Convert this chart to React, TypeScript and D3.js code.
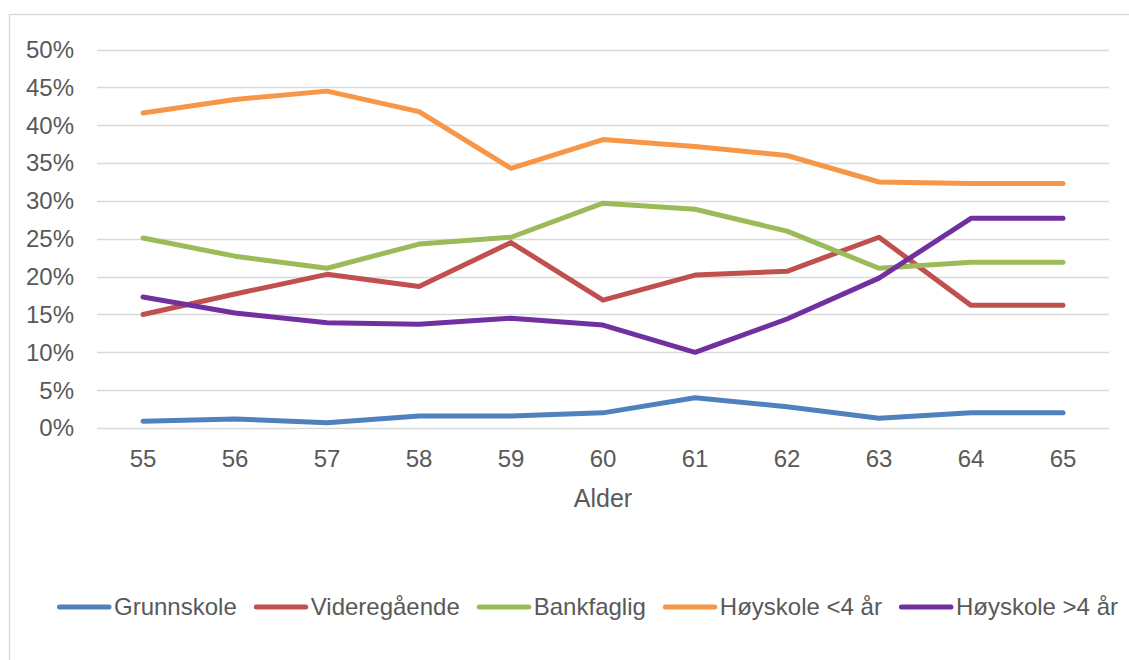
import React, { useEffect, useRef } from 'react';
import * as d3 from 'd3';

const ages = [55, 56, 57, 58, 59, 60, 61, 62, 63, 64, 65];
const yTicks = [0, 5, 10, 15, 20, 25, 30, 35, 40, 45, 50];

const grunnskole = [0.9, 1.2, 0.7, 1.6, 1.6, 2.0, 4.0, 2.8, 1.3, 2.0, 2.0];
const videregaende = [15.0, 17.7, 20.3, 18.7, 24.5, 16.9, 20.2, 20.7, 25.2, 16.2, 16.2];
const bankfaglig = [25.1, 22.7, 21.1, 24.3, 25.2, 29.7, 28.9, 26.0, 21.1, 21.9, 21.9];
const hoyskoleUnder4 = [41.6, 43.4, 44.5, 41.8, 34.3, 38.1, 37.2, 36.0, 32.5, 32.3, 32.3];
const hoyskoleOver4 = [17.3, 15.2, 13.9, 13.7, 14.5, 13.6, 10.0, 14.4, 19.8, 27.7, 27.7];

const seriesNames = ['Grunnskole', 'Videregående', 'Bankfaglig', 'Høyskole <4 år', 'Høyskole >4 år'];
const seriesValues = [grunnskole, videregaende, bankfaglig, hoyskoleUnder4, hoyskoleOver4];
const colors = ['#4f81bd', '#c0504d', '#9bbb59', '#f79646', '#7030a0'];

export default function App() {
    const ref = useRef<SVGSVGElement>(null);

    useEffect(() => {
        const width = 1129;
        const height = 660;
        const margin = { left: 97, right: 20, top: 49.5, bottom: 232 };
        const font = 'Liberation Sans, Arial, sans-serif';
        const fontSize = 24;

        const svg = d3.select(ref.current);
        svg.selectAll('*').remove();

        //chart frame
        svg.append('rect')
            .attr('x', 9.5)
            .attr('y', 14.5)
            .attr('width', 1140)
            .attr('height', 700)
            .attr('fill', 'white')
            .attr('stroke', '#d9d9d9')
            .attr('stroke-width', 1.3);

        const plotRight = width - margin.right;
        const plotBottom = height - margin.bottom;

        const x = d3.scalePoint<number>()
            .domain(ages)
            .range([margin.left, plotRight])
            .padding(0.5);

        const y = d3.scaleLinear()
            .domain([0, 50])
            .range([plotBottom, margin.top]);

        //gridlines
        svg.append('g')
            .selectAll('line')
            .data(yTicks)
            .enter()
            .append('line')
            .attr('x1', margin.left)
            .attr('x2', plotRight)
            .attr('y1', d => Math.round(y(d)) + 0.5)
            .attr('y2', d => Math.round(y(d)) + 0.5)
            .attr('stroke', '#d9d9d9')
            .attr('stroke-width', 1.3);

        //y tick labels
        svg.append('g')
            .selectAll('text')
            .data(yTicks)
            .enter()
            .append('text')
            .attr('x', 74)
            .attr('y', d => y(d))
            .attr('dy', '0.35em')
            .attr('text-anchor', 'end')
            .attr('font-family', font)
            .attr('font-size', fontSize)
            .attr('fill', '#595959')
            .text(d => `${d}%`);

        //x tick labels
        svg.append('g')
            .selectAll('text')
            .data(ages)
            .enter()
            .append('text')
            .attr('x', d => x(d)!)
            .attr('y', plotBottom + 39)
            .attr('text-anchor', 'middle')
            .attr('font-family', font)
            .attr('font-size', fontSize)
            .attr('fill', '#595959')
            .text(d => d);

        svg.append('text')
            .attr('x', (margin.left + plotRight) / 2)
            .attr('y', plotBottom + 79)
            .attr('text-anchor', 'middle')
            .attr('font-family', font)
            .attr('font-size', 25)
            .attr('fill', '#595959')
            .text('Alder');

        //lines
        const line = d3.line<number>()
            .x((_, i) => x(ages[i])!)
            .y(d => y(d));

        seriesValues.forEach((vals, i) => {
            svg.append('path')
                .attr('d', line(vals))
                .attr('fill', 'none')
                .attr('stroke', colors[i])
                .attr('stroke-width', 5)
                .attr('stroke-linejoin', 'round')
                .attr('stroke-linecap', 'round');
        });

        //legend
        const legend = svg.append('g');
        let lx = 57;
        const ly = 607;
        seriesNames.forEach((name, i) => {
            legend.append('line')
                .attr('x1', lx + 2.5)
                .attr('x2', lx + 52)
                .attr('y1', ly)
                .attr('y2', ly)
                .attr('stroke', colors[i])
                .attr('stroke-width', 5)
                .attr('stroke-linecap', 'round');
            const t = legend.append('text')
                .attr('x', lx + 57)
                .attr('y', ly)
                .attr('dy', '0.35em')
                .attr('font-family', font)
                .attr('font-size', fontSize)
                .attr('fill', '#595959')
                .text(name);
            const w = (t.node() as SVGTextElement).getComputedTextLength();
            lx += 57 + w + 17;
        });
    }, []);

    return (
        <svg
            ref={ref}
            width={1129}
            height={660}
            style={{ position: 'absolute', left: 0, top: 0 }}
        />
    );
}
